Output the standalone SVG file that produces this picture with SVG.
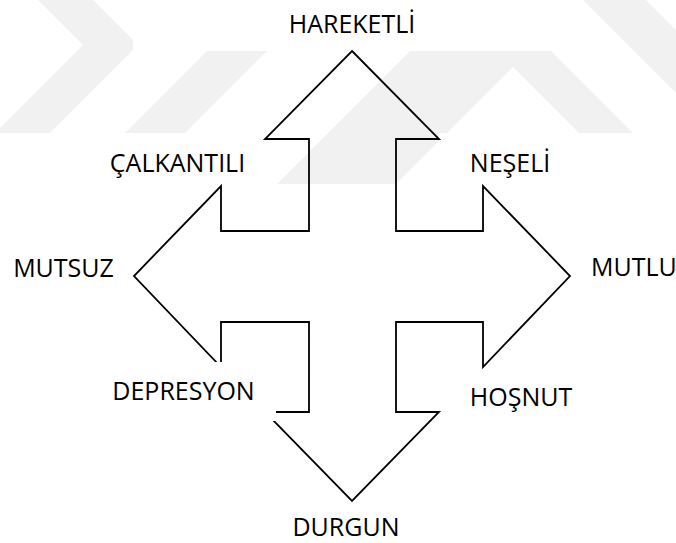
<svg xmlns="http://www.w3.org/2000/svg" width="676" height="543" viewBox="0 0 676 543">
  <style>
    .wm { fill: #f1f1f1; }
    .box { fill: #ffffff; }
    .arrow { fill: none; stroke: #000000; stroke-width: 1.8; stroke-linejoin: miter; }
    .lbl { font-family: "Open Sans", "Noto Sans", sans-serif; font-size: 25px; fill: #000000; text-anchor: middle; }
  </style>
  <defs>
    <clipPath id="wmclip"><rect x="0" y="0" width="676" height="185"/></clipPath>
  </defs>
  <rect x="0" y="0" width="676" height="543" fill="#ffffff"/>
  <g id="watermark" clip-path="url(#wmclip)">
    <polygon class="wm" points="38,0 93,0 138,45 50,133 -20,133 0,128 83,45"/>
    <polygon class="wm" points="125,133 185,133 267,51 320,-2 265,-2 207,51"/>
    <polygon class="wm" points="410,51 551,51 684,184 630,184 513,67 396,184 277,184"/>
    <polygon class="wm" points="583,0 646,0 676,30 676,93"/>
  </g>
  <g id="label-boxes">
    <rect class="box" x="133" y="0" width="418" height="51"/>
    <rect class="box" x="0" y="133" width="265" height="51"/>
    <rect class="box" x="439" y="133" width="237" height="51"/>
  </g>
  <g id="arrows">
    <polygon id="cross" class="arrow" points="352,51 439,139 396,139 396,231 483,231 483,186 570,276 483,367 483,322 396,322 396,412 439,412 352,501 265,412 309,412 309,322 221,322 221,367 134,276 221,186 221,231 309,231 309,139 265,139"/>
  </g>
  <rect class="box" x="100" y="362" width="176" height="59"/>
  <g id="label-hareketli"><text class="lbl" x="352" y="33">HAREKETLİ</text></g>
  <g id="label-calkantili"><text class="lbl" x="177.5" y="172">ÇALKANTILI</text></g>
  <g id="label-neseli"><text class="lbl" x="510" y="172">NEŞELİ</text></g>
  <g id="label-mutsuz"><text class="lbl" x="63.5" y="277">MUTSUZ</text></g>
  <g id="label-mutlu"><text class="lbl" x="591" y="276" style="text-anchor:start">MUTLU</text></g>
  <g id="label-depresyon"><text class="lbl" x="183.5" y="400">DEPRESYON</text></g>
  <g id="label-hosnut"><text class="lbl" x="521" y="406">HOŞNUT</text></g>
  <g id="label-durgun"><text class="lbl" x="346" y="536">DURGUN</text></g>
</svg>
